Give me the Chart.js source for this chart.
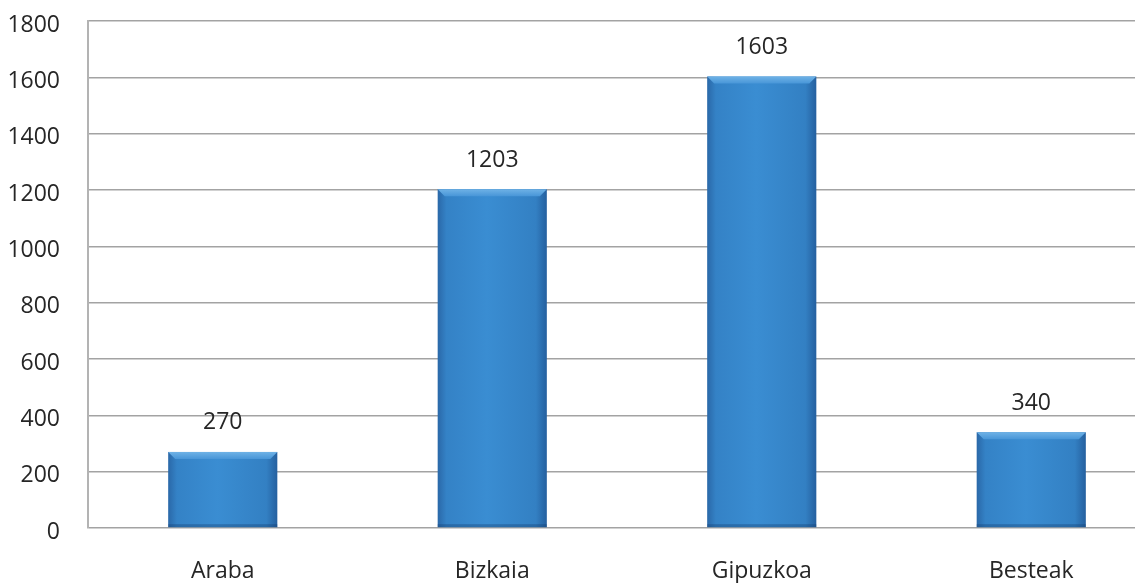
<!DOCTYPE html>
<html>
<head>
<meta charset="utf-8">
<script src="https://cdn.jsdelivr.net/npm/chart.js@4.4.1/dist/chart.umd.min.js"></script>
<style>
  html, body { margin: 0; padding: 0; background: #ffffff; overflow: hidden; width: 1135px; height: 583px; }
  #wrap { position: absolute; left: -4px; top: 0; width: 1172px; height: 583px; }
</style>
</head>
<body>
<div id="wrap"><canvas id="c"></canvas></div>
<script>
const categories = ["Araba", "Bizkaia", "Gipuzkoa", "Besteak"];
const values = [270, 1203, 1603, 340];
const yMin = 0;
const yMax = 1800;
const yStep = 200;

const FONT = "'Open Sans', 'Liberation Sans', sans-serif";
const TEXT = '#262626';

const barStyle = {
  id: 'barStyle',
  afterDatasetsDraw(chart) {
    const ctx = chart.ctx;
    const meta = chart.getDatasetMeta(0);
    meta.data.forEach((bar, i) => {
      const w = bar.width;
      const l = bar.x - w / 2, r = bar.x + w / 2;
      const t = bar.y, b = bar.base;
      const g = ctx.createLinearGradient(l, 0, r, 0);
      g.addColorStop(0, '#2a68a8');
      g.addColorStop(0.08, '#3482c6');
      g.addColorStop(0.45, '#3a8dd2');
      g.addColorStop(0.9, '#3380c3');
      g.addColorStop(1, '#25609f');
      ctx.save();
      ctx.fillStyle = g;
      ctx.fillRect(l, t, w, b - t);
      const bev = 7;
      const g2 = ctx.createLinearGradient(0, t, 0, t + bev);
      g2.addColorStop(0, '#6fb2e6');
      g2.addColorStop(1, '#4896d8');
      ctx.fillStyle = g2;
      ctx.beginPath();
      ctx.moveTo(l, t);
      ctx.lineTo(r, t);
      ctx.lineTo(r - bev, t + bev);
      ctx.lineTo(l + bev, t + bev);
      ctx.closePath();
      ctx.fill();
      ctx.fillStyle = 'rgba(20,60,110,0.35)';
      ctx.fillRect(l, b - 3, w, 3);
      ctx.fillStyle = TEXT;
      ctx.font = '23px ' + FONT;
      ctx.textAlign = 'center';
      ctx.textBaseline = 'middle';
      ctx.fillText(String(values[i]), bar.x, t - 29);
      ctx.restore();
    });
  }
};

new Chart(document.getElementById('c'), {
  type: 'bar',
  data: {
    labels: categories,
    datasets: [{
      data: values,
      backgroundColor: 'rgba(0,0,0,0)',
      borderWidth: 0,
      categoryPercentage: 1.0,
      barPercentage: 0.405
    }]
  },
  options: {
    responsive: true,
    maintainAspectRatio: false,
    animation: false,
    layout: { padding: { top: 21, right: 2, left: 0, bottom: 0 } },
    plugins: { legend: { display: false }, tooltip: { enabled: false } },
    scales: {
      x: {
        grid: { display: false, drawTicks: false },
        border: { display: false },
        ticks: { color: TEXT, font: { family: FONT, size: 23 }, padding: 30 },
        afterFit(s) { s.height = 55; s.paddingLeft = 0; s.paddingRight = 0; }
      },
      y: {
        min: yMin,
        max: yMax,
        ticks: {
          stepSize: yStep, color: TEXT, font: { family: FONT, size: 23 }, padding: 28, labelOffset: 4,
          callback: (v) => String(v)
        },
        grid: { color: '#a3a3a3', lineWidth: 1.6, drawTicks: false },
        border: { display: true, color: '#b3b3b3', width: 2 },
        afterFit(s) { s.width = 92; s.paddingTop = 0; s.paddingBottom = 0; }
      }
    }
  },
  plugins: [barStyle]
});
</script>
</body>
</html>
